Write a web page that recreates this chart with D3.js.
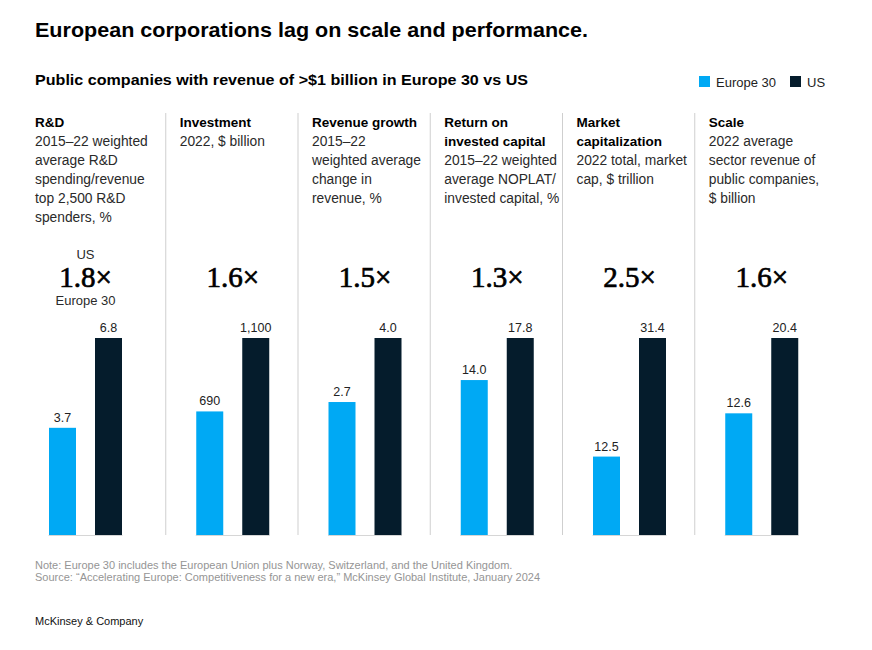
<!DOCTYPE html>
<html>
<head>
<meta charset="utf-8">
<script src="https://cdn.jsdelivr.net/npm/d3@7"></script>
<style>
  body { margin: 0; background: #fff; }
  text { font-family: "Liberation Sans", Arial, sans-serif; }
  text.mult { font-family: "Liberation Serif", "Times New Roman", serif; }
</style>
</head>
<body>
<svg id="chart" width="872" height="650"></svg>
<script>
// ---- data ----
const series = ["Europe 30", "US"];
const categories = ["R&D", "Investment", "Revenue growth", "Return on invested capital", "Market capitalization", "Scale"];
const headerLines = [
  ["R&D"],
  ["Investment"],
  ["Revenue growth"],
  ["Return on", "invested capital"],
  ["Market", "capitalization"],
  ["Scale"]
];
const descLines = [
  ["2015\u201322 weighted", "average R&D", "spending/revenue", "top 2,500 R&D", "spenders, %"],
  ["2022, $ billion"],
  ["2015\u201322", "weighted average", "change in", "revenue, %"],
  ["2015\u201322 weighted", "average NOPLAT/", "invested capital, %"],
  ["2022 total, market", "cap, $ trillion"],
  ["2022 average", "sector revenue of", "public companies,", "$ billion"]
];
const europeValues = [3.7, 690, 2.7, 14.0, 12.5, 12.6];
const usValues = [6.8, 1100, 4.0, 17.8, 31.4, 20.4];
const valueFormats = [".1f", ",d", ".1f", ".1f", ".1f", ".1f"];
const multiplierLabels = ["1.8\u00d7", "1.6\u00d7", "1.5\u00d7", "1.3\u00d7", "2.5\u00d7", "1.6\u00d7"];
const colors = ["#00a9f4", "#051c2c"];

// ---- layout ----
const svg = d3.select("#chart");
const baseY = 535, topY = 338;

svg.append("text").attr("x", 35).attr("y", 37)
  .attr("font-size", 20.5).attr("font-weight", 700).attr("fill", "#000")
  .attr("textLength", 553).attr("lengthAdjust", "spacingAndGlyphs")
  .text("European corporations lag on scale and performance.");

svg.append("text").attr("x", 35).attr("y", 85)
  .attr("font-size", 15).attr("font-weight", 700).attr("fill", "#000")
  .attr("textLength", 493).attr("lengthAdjust", "spacingAndGlyphs")
  .text("Public companies with revenue of >$1 billion in Europe 30 vs US");

// legend
const legend = svg.append("g");
const legX = d3.scaleOrdinal().domain(series).range([699, 790]);
series.forEach((s, k) => {
  legend.append("rect").attr("x", legX(s)).attr("y", 76).attr("width", 11).attr("height", 11).attr("fill", colors[k]);
  legend.append("text").attr("x", legX(s) + 17).attr("y", 87).attr("font-size", 13).attr("fill", "#222").text(s);
});

// panels
const panelX = d3.scaleLinear().domain([0, 6]).range([33.5, 827]);
const panelTextX = i => i === 0 ? 35 : panelX(i) + 14;
const groupCenter = i => i === 0 ? 85.5 : panelX(i) + 67;

// separators
d3.range(1, 6).forEach(i => {
  svg.append("line").attr("x1", panelX(i)).attr("x2", panelX(i))
    .attr("y1", 113).attr("y2", baseY).attr("stroke", "#cfcfcf").attr("stroke-width", 1);
});

const lineH = 19;
categories.forEach((cat, i) => {
  const g = svg.append("g");
  const tx = panelTextX(i);
  let y = 127;
  headerLines[i].forEach(l => {
    g.append("text").attr("x", tx).attr("y", y).attr("font-size", 13.5).attr("font-weight", 700).attr("fill", "#000").text(l);
    y += lineH;
  });
  descLines[i].forEach(l => {
    g.append("text").attr("x", tx).attr("y", y).attr("font-size", 13.8).attr("fill", "#2a2a2a").text(l);
    y += lineH;
  });

  const cx = groupCenter(i);
  // multiplier
  g.append("text").attr("class", "mult").attr("x", cx).attr("y", 287).attr("text-anchor", "middle")
    .attr("font-size", 29).attr("font-weight", 400).attr("fill", "#000")
    .attr("stroke", "#000").attr("stroke-width", 0.7)
    .text(multiplierLabels[i]);
  if (i === 0) {
    g.append("text").attr("x", cx).attr("y", 259).attr("text-anchor", "middle")
      .attr("font-size", 13).attr("fill", "#2a2a2a").text(series[1]);
    g.append("text").attr("x", cx).attr("y", 305).attr("text-anchor", "middle")
      .attr("font-size", 13).attr("fill", "#2a2a2a").text(series[0]);
  }

  const x = d3.scaleBand().domain(series).range([cx - 36.5, cx + 36.5]).paddingInner(0.413).paddingOuter(0);
  const y2 = d3.scaleLinear().domain([0, usValues[i]]).range([baseY, topY]);
  const vals = [europeValues[i], usValues[i]];
  const fmt = d3.format(valueFormats[i]);

  g.append("line").attr("x1", cx - 37).attr("x2", cx + 37).attr("y1", baseY + 0.5).attr("y2", baseY + 0.5)
    .attr("stroke", "#d6d6d6").attr("stroke-width", 1);

  g.selectAll("rect.bar").data(series).join("rect").attr("class", "bar")
    .attr("x", s => x(s)).attr("width", x.bandwidth())
    .attr("y", (s, k) => y2(vals[k])).attr("height", (s, k) => baseY - y2(vals[k]))
    .attr("fill", (s, k) => colors[k]);

  g.selectAll("text.val").data(series).join("text").attr("class", "val")
    .attr("x", s => x(s) + x.bandwidth() / 2).attr("y", (s, k) => y2(vals[k]) - 6)
    .attr("text-anchor", "middle").attr("font-size", 12.5).attr("fill", "#222")
    .text((s, k) => fmt(vals[k]));
});

// footer
svg.append("text").attr("x", 35).attr("y", 569).attr("font-size", 11).attr("fill", "#959595")
  .text("Note: Europe 30 includes the European Union plus Norway, Switzerland, and the United Kingdom.");
svg.append("text").attr("x", 35).attr("y", 581).attr("font-size", 11).attr("fill", "#959595")
  .text("Source: \u201cAccelerating Europe: Competitiveness for a new era,\u201d McKinsey Global Institute, January 2024");
svg.append("text").attr("x", 35).attr("y", 625).attr("font-size", 11).attr("fill", "#111")
  .text("McKinsey & Company");
</script>
</body>
</html>
